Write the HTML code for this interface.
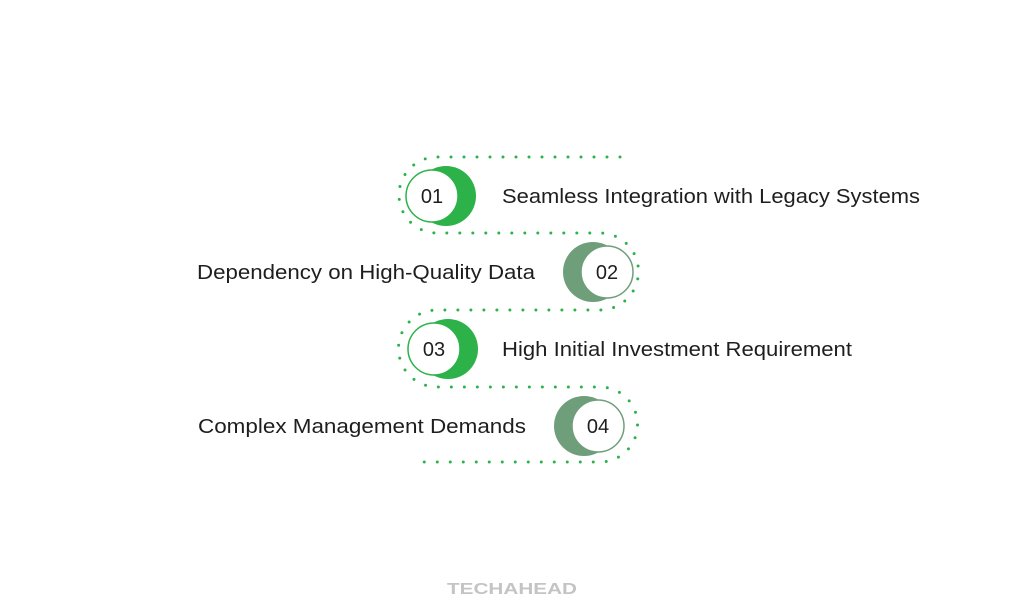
<!DOCTYPE html>
<html><head><meta charset="utf-8"><style>
body{margin:0;width:1024px;height:609px;background:#fff;overflow:hidden;font-family:"Liberation Sans",sans-serif}
</style></head><body>
<svg width="1024" height="609" xmlns="http://www.w3.org/2000/svg">
<path d="M620 157 L437 157 A38 38 0 0 0 437 233 L600 233 A38.5 38.5 0 0 1 600 310 L437 310 A38.5 38.5 0 0 0 437 387 L600 387 A37.5 37.5 0 0 1 600 462 L420 462" fill="none" stroke="#2db24a" stroke-width="3" stroke-linecap="round" stroke-dasharray="0 13"/>
<g font-family="Liberation Sans, sans-serif" font-size="20" fill="#1e1e1e">
<circle cx="446" cy="196" r="30" fill="#2db24a"/>
<circle cx="432" cy="196" r="26" fill="#fff" stroke="#2db24a" stroke-width="1.5"/>
<text x="432" y="203" text-anchor="middle">01</text>
<text x="502" y="203" textLength="418" lengthAdjust="spacingAndGlyphs">Seamless Integration with Legacy Systems</text>

<circle cx="593" cy="272" r="30" fill="#6f9e7a"/>
<circle cx="607" cy="272" r="26" fill="#fff" stroke="#6f9e7a" stroke-width="1.5"/>
<text x="607" y="279" text-anchor="middle">02</text>
<text x="197" y="279" textLength="338" lengthAdjust="spacingAndGlyphs">Dependency on High-Quality Data</text>

<circle cx="448" cy="349" r="30" fill="#2db24a"/>
<circle cx="434" cy="349" r="26" fill="#fff" stroke="#2db24a" stroke-width="1.5"/>
<text x="434" y="356" text-anchor="middle">03</text>
<text x="502" y="356" textLength="350" lengthAdjust="spacingAndGlyphs">High Initial Investment Requirement</text>

<circle cx="584" cy="426" r="30" fill="#6f9e7a"/>
<circle cx="598" cy="426" r="26" fill="#fff" stroke="#6f9e7a" stroke-width="1.5"/>
<text x="598" y="433" text-anchor="middle">04</text>
<text x="198" y="433" textLength="328" lengthAdjust="spacingAndGlyphs">Complex Management Demands</text>
</g>
<text x="447" y="594" textLength="130" lengthAdjust="spacingAndGlyphs" font-family="Liberation Sans, sans-serif" font-weight="bold" font-size="16" fill="#c4c4c4">TECHAHEAD</text>
</svg>
</body></html>
